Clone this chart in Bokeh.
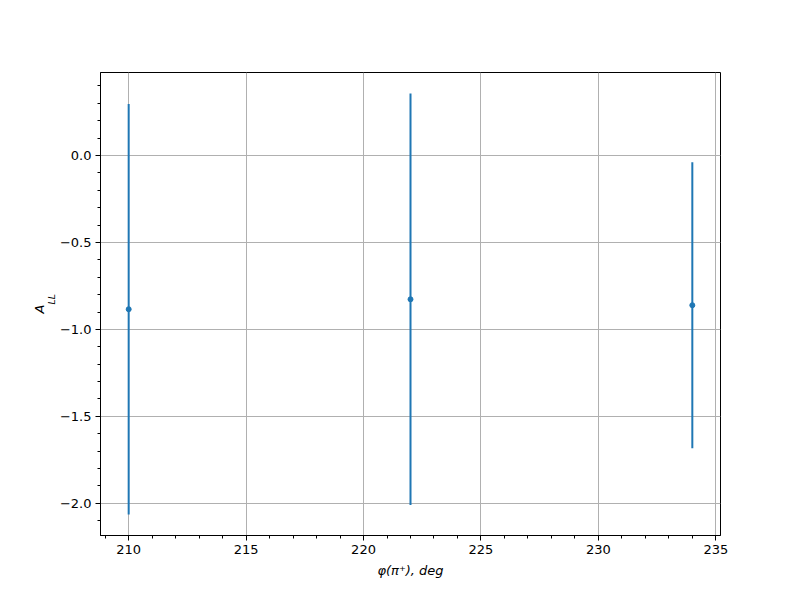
from bokeh.plotting import figure
from bokeh.models import Range1d, FixedTicker, Title
from bokeh.embed import file_html
from bokeh.resources import INLINE

phi = [210, 222, 234]
a_ll = [-0.884, -0.827, -0.861]
err = [1.18, 1.183, 0.822]

x_ticks = [210, 215, 220, 225, 230, 235]
y_ticks = [-2.0, -1.5, -1.0, -0.5, 0.0]
y_tick_labels = ["\u22122.0", "\u22121.5", "\u22121.0", "\u22120.5", "0.0"]

lo = [v - e for v, e in zip(a_ll, err)]
hi = [v + e for v, e in zip(a_ll, err)]

xspan = max(phi) - min(phi)
yspan = max(hi) - min(lo)

p = figure(width=800, height=600, output_backend="svg", toolbar_location=None,
           x_range=Range1d(min(phi) - 0.05 * xspan, max(phi) + 0.05 * xspan),
           y_range=Range1d(min(lo) - 0.05 * yspan, max(hi) + 0.05 * yspan),
           min_border_left=100, min_border_right=80, min_border_top=72, min_border_bottom=65)
p.background_fill_color = "white"
p.border_fill_color = "white"
p.outline_line_color = "black"
p.outline_line_width = 1

p.xaxis.ticker = FixedTicker(ticks=x_ticks, minor_ticks=list(range(209, 236)))
p.yaxis.ticker = FixedTicker(ticks=y_ticks, minor_ticks=[round(-2.1 + 0.1 * i, 2) for i in range(26)])
p.yaxis.major_label_overrides = {t: l for t, l in zip(y_ticks, y_tick_labels)}
p.xaxis.major_label_overrides = {t: str(t) for t in x_ticks}

for ax in (p.xaxis[0], p.yaxis[0]):
    ax.axis_line_color = "black"
    ax.major_tick_line_color = "black"
    ax.minor_tick_line_color = "black"
    ax.major_tick_in = 0
    ax.major_tick_out = 5
    ax.minor_tick_in = 0
    ax.minor_tick_out = 3
    ax.major_label_standoff = 4
    ax.major_label_text_font = "DejaVu Sans"
    ax.major_label_text_font_size = "13px"
    ax.major_label_text_color = "black"
    ax.axis_label_text_font = "DejaVu Sans"
    ax.axis_label_text_font_size = "13px"
    ax.axis_label_text_color = "black"

p.xaxis.axis_label = "\u03c6(\u03c0\u207a), deg"
p.xaxis.axis_label_text_font_style = "italic"
p.xaxis.axis_label_standoff = 6
p.yaxis.axis_label = None

p.xgrid.grid_line_color = "#b0b0b0"
p.ygrid.grid_line_color = "#b0b0b0"
p.xgrid.ticker = FixedTicker(ticks=x_ticks)
p.ygrid.ticker = FixedTicker(ticks=y_ticks)

p.segment(x0=phi, y0=lo, x1=phi, y1=hi, line_color="#1f77b4", line_width=2)
p.scatter(x=phi, y=a_ll, size=5, fill_color="#1f77b4", line_color="#1f77b4")

# y-axis label A_LL as two side titles (subscript LL nearer the axis)
p.add_layout(Title(text="LL", align="left", offset=231, standoff=-1,
                   text_font="DejaVu Sans", text_font_size="9.5px", text_font_style="italic",
                   text_color="black"), "left")
p.add_layout(Title(text="A", align="left", offset=222, standoff=-5,
                   text_font="DejaVu Sans", text_font_size="13px", text_font_style="italic",
                   text_color="black"), "left")

open("out.html", "w").write(file_html(p, INLINE))
